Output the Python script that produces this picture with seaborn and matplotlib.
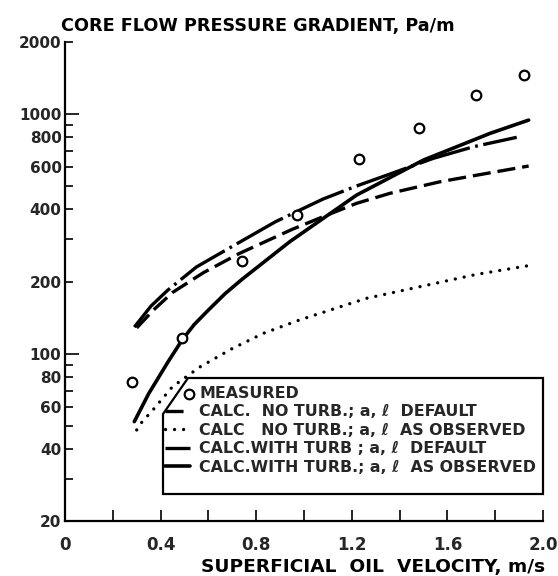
import numpy as np
import pandas as pd
import matplotlib
matplotlib.use("Agg")
import matplotlib.pyplot as plt
from matplotlib.ticker import FixedLocator, FuncFormatter, NullFormatter
from matplotlib.patches import Polygon
from matplotlib.legend_handler import HandlerPathCollection
import seaborn as sns

# ---------------- data ----------------
measured_x = [0.28, 0.49, 0.74, 0.97, 1.23, 1.48, 1.72, 1.92]
measured_y = [76, 116, 244, 379, 647, 877, 1202, 1456]

noturb_default_x = [0.30, 0.37, 0.45, 0.58, 0.73, 0.95, 1.08, 1.22, 1.36, 1.57, 1.78, 1.94]
noturb_default_y = [128, 152, 180, 218, 262, 330, 373, 424, 467, 522, 569, 607]

noturb_observed_x = [0.30, 0.32, 0.37, 0.45, 0.565, 0.70, 0.83, 0.98, 1.26, 1.72, 1.94]
noturb_observed_y = [48, 51.5, 58.5, 72.8, 88, 105, 121.5, 138, 170, 214, 233]

turb_default_x = [0.29, 0.36, 0.43, 0.55, 0.66, 0.88, 0.97, 1.08, 1.22, 1.36, 1.54, 1.71, 1.89]
turb_default_y = [129, 158, 184, 230, 266, 355, 392, 442, 501, 562, 653, 731, 800]

turb_observed_x = [0.29, 0.35, 0.43, 0.49, 0.54, 0.60, 0.67, 0.74, 0.94, 1.22, 1.50, 1.78, 1.94]
turb_observed_y = [52, 68, 92, 114, 132, 152, 178, 204, 293, 459, 643, 832, 944]

legend_labels = [
    "MEASURED",
    "CALC.  NO TURB.; a, \u2113  DEFAULT",
    "CALC   NO TURB.; a, \u2113  AS OBSERVED",
    "CALC.WITH TURB ; a, \u2113  DEFAULT",
    "CALC.WITH TURB.; a, \u2113  AS OBSERVED",
]

x_major = [0, 0.4, 0.8, 1.2, 1.6, 2.0]
x_major_labels = ["0", "0.4", "0.8", "1.2", "1.6", "2.0"]
x_minor = [0.2, 0.6, 1.0, 1.4, 1.8]

y_major = [100, 1000]
y_major_labels = ["100", "1000"]
y_minor = [20, 30, 40, 50, 60, 70, 80, 90, 200, 300, 400, 500, 600, 700, 800, 900, 2000]
y_minor_labeled = {20: "20", 40: "40", 60: "60", 80: "80", 200: "200",
                   400: "400", 600: "600", 800: "800", 2000: "2000"}

title_text = "CORE FLOW PRESSURE GRADIENT, Pa/m"
xlabel_text = "SUPERFICIAL  OIL  VELOCITY, m/s"

# ---------------- figure ----------------
sns.set_style("ticks")
plt.rcParams["font.family"] = ["DejaVu Sans"]
plt.rcParams["font.weight"] = "bold"
plt.rcParams["lines.scale_dashes"] = False

W, H = 558, 576
fig = plt.figure(figsize=(W / 100, H / 100), dpi=100)
fig.patch.set_facecolor("white")

def px(x, y):
    return x / W, 1 - y / H

L, R, T, B = 65, 543, 42, 521
ax = fig.add_axes([L / W, 1 - B / H, (R - L) / W, (B - T) / H])
ax.set_facecolor("white")

ax.set_yscale("log")
ax.set_xlim(0, 2.0)
ax.set_ylim(20, 2000)

# curves
sns.lineplot(x=noturb_default_x, y=noturb_default_y, ax=ax, color="black",
             linewidth=2.4, linestyle=(0, (13, 5)), sort=False, estimator=None)
sns.lineplot(x=noturb_observed_x, y=noturb_observed_y, ax=ax, color="black",
             linewidth=2.4, linestyle=(0, (0.01, 6.5)), dash_capstyle="round",
             sort=False, estimator=None)
sns.lineplot(x=turb_default_x, y=turb_default_y, ax=ax, color="black",
             linewidth=2.4, linestyle=(0, (38, 4, 2, 4)), sort=False, estimator=None)
sns.lineplot(x=turb_observed_x, y=turb_observed_y, ax=ax, color="black",
             linewidth=2.6, linestyle="-", sort=False, estimator=None)
sns.scatterplot(x=measured_x, y=measured_y, ax=ax, marker="o", s=48,
                facecolor="white", edgecolor="black", linewidth=1.6, zorder=5)

# spines
for s in ["top", "right"]:
    ax.spines[s].set_visible(False)
for s in ["left", "bottom"]:
    ax.spines[s].set_linewidth(1.6)
    ax.spines[s].set_color("black")

# ticks
ax.set_xticks(x_major)
ax.set_xticklabels(x_major_labels)
ax.xaxis.set_minor_locator(FixedLocator(x_minor))
ax.xaxis.set_minor_formatter(NullFormatter())

ax.set_yticks(y_major)
ax.set_yticklabels(y_major_labels)
ax.yaxis.set_minor_locator(FixedLocator(y_minor))
ax.yaxis.set_minor_formatter(FuncFormatter(lambda v, p: y_minor_labeled.get(int(round(v)), "")))

ax.tick_params(axis="x", which="both", direction="in", length=8, width=1.2,
               color="black", labelsize=12, pad=11, top=False)
ax.tick_params(axis="y", which="major", direction="in", length=10, width=1.2,
               color="black", labelsize=11, pad=2.5, right=False)
ax.tick_params(axis="y", which="minor", direction="in", length=6, width=1.2,
               color="black", labelsize=11, pad=2.5, right=False)
for lab in ax.get_xticklabels() + ax.get_yticklabels() + ax.get_yticklabels(minor=True):
    lab.set_fontweight("bold")
ax.set_xlabel("")
ax.set_ylabel("")

# titles
fig.text(*px(61, 17), title_text, ha="left", va="top", fontsize=12.7,
         fontweight="bold", color="black")
fig.text(*px(545, 567), xlabel_text, ha="right", va="center", fontsize=13.3,
         fontweight="bold", color="black")

# legend box with cut corner
box = [px(188, 378), px(543, 378), px(543, 494), px(163, 494), px(163, 414)]
poly = Polygon(box, closed=True, transform=fig.transFigure, facecolor="white",
               edgecolor="black", linewidth=1.6, zorder=6)
fig.add_artist(poly)


class RightMarkerHandler(HandlerPathCollection):
    def get_xdata(self, legend, xdescent, ydescent, width, height, fontsize):
        x = [-xdescent + width * 0.95]
        return x, x


handles = [ax.collections[0]] + list(ax.lines[:4])
leg = ax.legend(handles, legend_labels, loc="upper left",
                bbox_to_anchor=px(165, 386), bbox_transform=fig.transFigure,
                frameon=False, handlelength=1.6, handletextpad=0.55,
                labelspacing=0.22, borderpad=0, borderaxespad=0,
                prop={"size": 11.4, "weight": "bold"},
                handler_map={type(ax.collections[0]): RightMarkerHandler()})
leg.remove()
leg.set_zorder(7)
fig.add_artist(leg)

fig.savefig("out.png", dpi=100, facecolor="white")
